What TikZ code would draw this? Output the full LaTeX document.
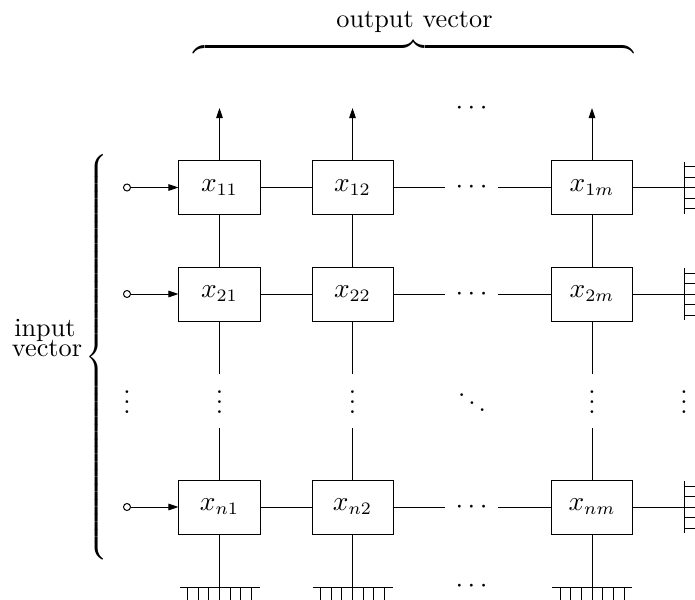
\documentclass[tikz,border=0pt]{standalone}
\usetikzlibrary{arrows.meta}
\begin{document}
\begin{tikzpicture}[x=0.4pt,y=-0.4pt,
  every node/.style={font=\fontsize{10.5pt}{12.6pt}\selectfont},
  cell/.style={draw, inner sep=0pt, minimum width=32.4pt, minimum height=21.6pt},
  gap/.style={inner sep=0pt, minimum width=21pt, minimum height=21pt},
  arr/.style={-{Triangle[length=4pt,width=2.6pt]}},
  src/.style={circle, draw, inner sep=0pt, minimum size=2.8pt},
  dotsv/.style={inner sep=0pt, anchor=base},
  lbl/.style={inner sep=0pt}]
\useasboundingbox (0,0) rectangle (695,600);
\clip (0,0) rectangle (695,600);

% cells
\node[cell] (x11) at (219.5,187.5) {$x_{11}$};
\node[cell] (x12) at (352.5,187.5) {$x_{12}$};
\node[cell] (x1m) at (592,187.5) {$x_{1m}$};
\node[cell] (x21) at (219.5,294) {$x_{21}$};
\node[cell] (x22) at (352.5,294) {$x_{22}$};
\node[cell] (x2m) at (592,294) {$x_{2m}$};
\node[cell] (xn1) at (219.5,507) {$x_{n1}$};
\node[cell] (xn2) at (352.5,507) {$x_{n2}$};
\node[cell] (xnm) at (592,507) {$x_{nm}$};

% gaps with dots
\node[gap] (h1) at (471.5,187.5) {$\cdots$};
\node[gap] (h2) at (471.5,294) {$\cdots$};
\node[gap] (hn) at (471.5,507) {$\cdots$};
\node[gap] (v1) at (219.5,401) {};
\node[gap] (v2) at (352.5,401) {};
\node[gap] (vm) at (592,401) {};

\node[dotsv] (d0) at (127,413.5) {$\vdots$};
\node[dotsv] (d1) at (219.5,413) {$\vdots$};
\node[dotsv] (d2) at (352.5,413) {$\vdots$};
\node[dotsv] (dm) at (592,413) {$\vdots$};
\node[dotsv] (dr) at (684,413.5) {$\vdots$};
\node[dotsv] (dd) at (472,414) {$\ddots$};

\node[lbl] (od) at (471.5,108) {$\cdots$};
\node[lbl] (bd) at (471.5,586) {$\cdots$};

% inputs
\foreach \r/\y in {1/187.5,2/294,n/507}{
  \node[src] (i\r) at (127,\y) {};
  \draw[arr] (i\r) -- (x\r1);
}

% outputs
\foreach \c/\x in {1/219.5,2/352.5,m/592}{
  \coordinate (o\c) at (\x,108);
  \draw[arr] (x1\c) -- (o\c);
}

% horizontal links
\foreach \r in {1,2,n}{
  \draw (x\r1) -- (x\r2);
  \draw (x\r2) -- (h\r);
  \draw (h\r) -- (x\r m);
}

% vertical links
\foreach \c in {1,2,m}{
  \draw (x1\c) -- (x2\c);
  \draw (x2\c) -- (v\c);
  \draw (v\c) -- (xn\c);
}

% right grounds
\foreach \r/\y in {1/187.5,2/294,n/507}{
  \coordinate (r\r) at (684,\y);
  \draw (x\r m) -- (r\r);
  \draw (r\r) ++(0,-26) -- ++(0,52);
  \foreach \k in {-21,-10.5,0,10.5,21}
    \draw (r\r) ++(0,\k) -- ++(14,0);
}

% bottom grounds
\foreach \c/\x in {1/219.5,2/352.5,m/592}{
  \coordinate (b\c) at (\x,587);
  \draw (xn\c) -- (b\c);
  \draw (b\c) ++(-40,0) -- ++(80,0);
  \foreach \k in {-32,-21.3,-10.7,0,10.7,21.3,32}
    \draw (b\c) ++(\k,0) -- ++(0,16);
}

% top brace and label
\node[inner sep=0pt, anchor=south] (ob) at (414,56.5) {$\overbrace{\hspace{176pt}}$};
\node[anchor=base, lbl] (ol) at (414.5,27.5) {output vector};

% left brace and label
\node[inner sep=0pt, anchor=east] (ib) at (111,357)
  {$\delimiterfactor=1000 \delimitershortfall=0pt \left\{\vrule height 82.5pt depth 77.5pt width 0pt\right.$};
\node[anchor=base, lbl] (il1) at (45,336) {input};
\node[anchor=base, lbl] (il2) at (47,356) {vector};
\end{tikzpicture}
\end{document}
